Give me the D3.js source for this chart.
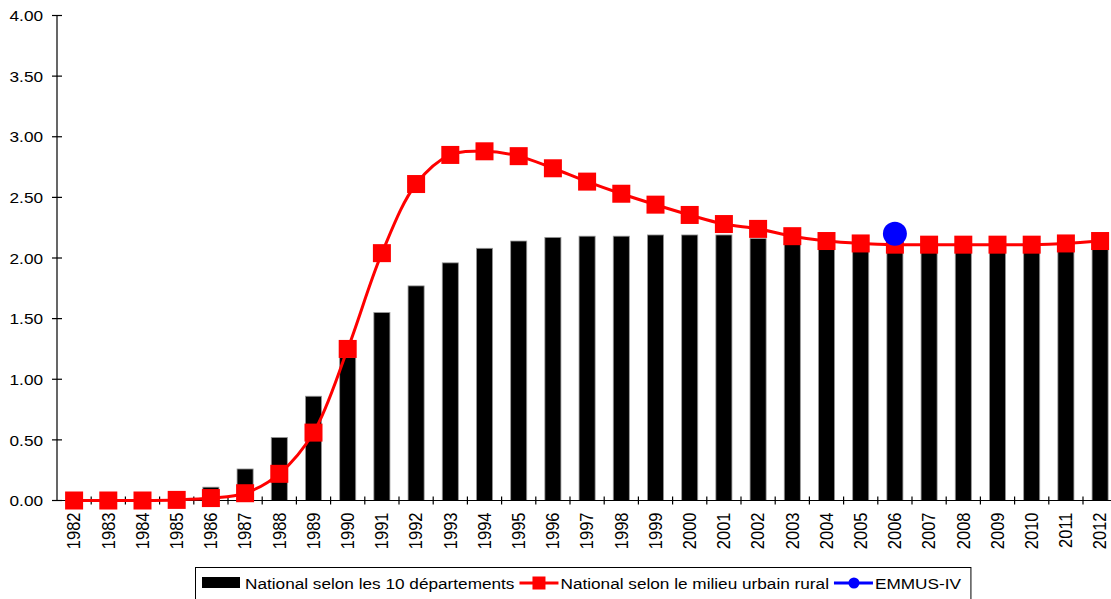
<!DOCTYPE html>
<html>
<head>
<meta charset="utf-8">
<script src="https://cdn.jsdelivr.net/npm/d3@7"></script>
<style>
  html, body { margin: 0; padding: 0; background: #fff; }
  svg { display: block; }
</style>
</head>
<body>
<svg id="chart" width="1111" height="599"></svg>
<script>
(function() {

  const years = d3.range(1982, 2013).map(String);

  // National selon les 10 départements (bars)
  const depValues = [0, 0, 0, 0, 0.11, 0.26, 0.52, 0.86, 1.18, 1.55, 1.77, 1.96, 2.08, 2.14,
    2.17, 2.18, 2.18, 2.19, 2.19, 2.19, 2.16, 2.12, 2.09, 2.07, 2.06, 2.06, 2.06, 2.06,
    2.06, 2.07, 2.08];

  // National selon le milieu urbain rural (line)
  const urbValues = [0, 0, 0, 0.005, 0.02, 0.06, 0.22, 0.56, 1.25, 2.04, 2.61, 2.85, 2.88, 2.84,
    2.74, 2.63, 2.53, 2.44, 2.355, 2.28, 2.24, 2.18, 2.14, 2.12, 2.11, 2.11, 2.11, 2.11,
    2.11, 2.12, 2.14];

  // EMMUS-IV (single point)
  const emmusYear = "2006";
  const emmusValue = 2.20;

  const yTicks = [0, 0.5, 1, 1.5, 2, 2.5, 3, 3.5, 4];

  const legendItems = [
    { key: "bar", label: "National selon les 10 départements" },
    { key: "urb", label: "National selon le milieu urbain rural" },
    { key: "emmus", label: "EMMUS-IV" },
  ];

  const FONT = "'Liberation Sans', Arial, sans-serif";
  const SX = 1.11; // text in the original is slightly stretched sideways
  const plot = { left: 57, top: 15.5, bottom: 500.5, step: 34.2 };

  const svg = d3.select("#chart");

  const x = d3.scaleBand()
    .domain(years)
    .range([plot.left, plot.left + years.length * plot.step])
    .padding(0);

  const y = d3.scaleLinear()
    .domain([0, 4])
    .range([plot.bottom, plot.top]);

  const barW = x.bandwidth() * 0.47;
  const cx = (yr) => x(yr) + x.bandwidth() / 2;

  function addText(parent, tx, ty, str, opts) {
    const t = parent.append("text")
      .attr("transform", `translate(${tx},${ty}) scale(${SX},1)` + (opts.rotate ? ` rotate(${opts.rotate})` : ""))
      .attr("text-anchor", opts.anchor || "start")
      .attr("dominant-baseline", "central")
      .attr("font-family", FONT)
      .attr("font-size", opts.size)
      .attr("fill", "#000")
      .text(str);
    return t;
  }

  // bars
  svg.append("g")
    .selectAll("rect")
    .data(years.map((yr, i) => ({ yr, v: depValues[i] })).filter(d => d.v > 0))
    .join("rect")
    .attr("x", d => cx(d.yr) - barW / 2)
    .attr("y", d => y(d.v))
    .attr("width", barW)
    .attr("height", d => y(0) - y(d.v))
    .attr("fill", "#000")
    .attr("stroke", "#999")
    .attr("stroke-width", 0.8);

  // y axis
  const yAxis = svg.append("g");
  yAxis.append("line")
    .attr("x1", plot.left).attr("x2", plot.left)
    .attr("y1", plot.top).attr("y2", plot.bottom)
    .attr("stroke", "#000").attr("stroke-width", 1.2);
  yTicks.forEach(t => {
    yAxis.append("line")
      .attr("x1", plot.left - 5).attr("x2", plot.left + 5)
      .attr("y1", y(t)).attr("y2", y(t))
      .attr("stroke", "#000").attr("stroke-width", 1.2);
    addText(yAxis, 43, y(t), t.toFixed(2), { anchor: "end", size: 15.5 });
  });

  // x axis
  const xAxis = svg.append("g");
  xAxis.append("line")
    .attr("x1", plot.left).attr("x2", plot.left + years.length * plot.step)
    .attr("y1", plot.bottom).attr("y2", plot.bottom)
    .attr("stroke", "#000").attr("stroke-width", 1.2);
  years.forEach(yr => {
    const bx = x(yr) + x.bandwidth();
    xAxis.append("line")
      .attr("x1", bx).attr("x2", bx)
      .attr("y1", plot.bottom - 4).attr("y2", plot.bottom + 4)
      .attr("stroke", "#000").attr("stroke-width", 1.2);
    addText(xAxis, cx(yr), plot.bottom + 12, yr, { anchor: "end", size: 16.5, rotate: -90 });
  });

  // smoothed red line
  const line = d3.line()
    .x((d, i) => cx(years[i]))
    .y(d => y(d))
    .curve(d3.curveCatmullRom.alpha(0.5));

  svg.append("path")
    .datum(urbValues)
    .attr("d", line)
    .attr("fill", "none")
    .attr("stroke", "#ff0000")
    .attr("stroke-width", 3);

  const sq = 18;
  svg.append("g")
    .selectAll("rect")
    .data(urbValues)
    .join("rect")
    .attr("x", (d, i) => cx(years[i]) - sq / 2)
    .attr("y", d => y(d) - sq / 2)
    .attr("width", sq).attr("height", sq)
    .attr("fill", "#ff0000");

  // EMMUS-IV point
  svg.append("circle")
    .attr("cx", cx(emmusYear))
    .attr("cy", y(emmusValue))
    .attr("r", 12)
    .attr("fill", "#0000ff");

  // legend
  const lg = svg.append("g");
  const box = lg.append("rect")
    .attr("x", 195.5).attr("y", 567.5)
    .attr("height", 40)
    .attr("fill", "#fff")
    .attr("stroke", "#000").attr("stroke-width", 1);

  let lx = 202;
  const ly = 583;
  legendItems.forEach(item => {
    if (item.key === "bar") {
      lg.append("rect")
        .attr("x", lx).attr("y", ly - 6)
        .attr("width", 38).attr("height", 11)
        .attr("fill", "#000");
      lx += 43;
    } else {
      const col = item.key === "urb" ? "#ff0000" : "#0000ff";
      lg.append("line")
        .attr("x1", lx).attr("x2", lx + 39)
        .attr("y1", ly).attr("y2", ly)
        .attr("stroke", col).attr("stroke-width", 3);
      if (item.key === "urb") {
        lg.append("rect")
          .attr("x", lx + 13).attr("y", ly - 6.5)
          .attr("width", 13).attr("height", 13)
          .attr("fill", col);
      } else {
        lg.append("circle")
          .attr("cx", lx + 20).attr("cy", ly)
          .attr("r", 5.5)
          .attr("fill", col);
      }
      lx += 41;
    }
    const t = addText(lg, lx, ly, item.label, { size: 15.5 });
    lx += t.node().getComputedTextLength() * SX + 5;
  });
  box.attr("width", lx - 195.5 + 5);

})();
</script>
</body>
</html>
